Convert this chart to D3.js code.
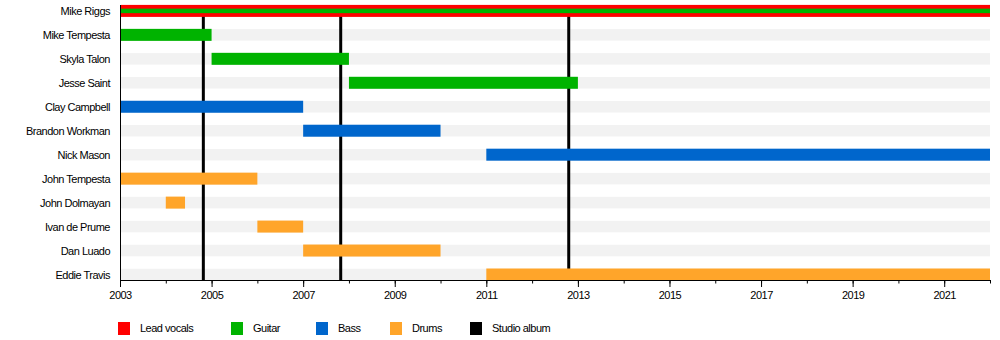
<!DOCTYPE html>
<html>
<head>
<meta charset="utf-8">
<script src="https://cdn.jsdelivr.net/npm/d3@7"></script>
<style>
  html, body { margin: 0; padding: 0; background: #fff; }
  svg { display: block; font-family: "Liberation Sans", Arial, sans-serif; }
  text { fill: #000; }
</style>
</head>
<body>
<svg id="chart" width="1000" height="340"></svg>
<script>
// Band members, top to bottom
const members = [
  "Mike Riggs", "Mike Tempesta", "Skyla Talon", "Jesse Saint",
  "Clay Campbell", "Brandon Workman", "Nick Mason",
  "John Tempesta", "John Dolmayan", "Ivan de Prume", "Dan Luado", "Eddie Travis"
];

// Roles and their colours
const roles = ["Lead vocals", "Guitar", "Bass", "Drums"];
const roleColors = ["#ff0000", "#00b300", "#0066cc", "#ffa52a"];

// Tenure periods: [member, role, start year, end year]
const periods = [
  ["Mike Riggs", "Lead vocals", 2003, 2022],
  ["Mike Riggs", "Guitar", 2003, 2022],
  ["Mike Tempesta", "Guitar", 2003, 2005],
  ["Skyla Talon", "Guitar", 2005, 2008],
  ["Jesse Saint", "Guitar", 2008, 2013],
  ["Clay Campbell", "Bass", 2003, 2007],
  ["Brandon Workman", "Bass", 2007, 2010],
  ["Nick Mason", "Bass", 2011, 2022],
  ["John Tempesta", "Drums", 2003, 2006],
  ["John Dolmayan", "Drums", 2004, 2004.42],
  ["Ivan de Prume", "Drums", 2006, 2007],
  ["Dan Luado", "Drums", 2007, 2010],
  ["Eddie Travis", "Drums", 2011, 2022]
];

// Studio album release dates
const albums = [2004.82, 2007.82, 2012.8];

// Timeline extent and axis ticks
const timeStart = 2003, timeEnd = 2022;
const minorYears = d3.range(2003, 2023);
const tickLabels = [2003, 2005, 2007, 2009, 2011, 2013, 2015, 2017, 2019, 2021];

const svg = d3.select("#chart");
const plotLeft = 120, plotRight = 990, plotTop = 5, plotBottom = 280;
const barH = 11.5;

const x = d3.scaleLinear().domain([timeStart, timeEnd]).range([plotLeft, plotRight]);
const y = d3.scalePoint().domain(members).range([10.9, 274.5]);
const color = d3.scaleOrdinal().domain(roles.concat(["Studio album"])).range(roleColors.concat(["#000000"]));

// Light background bars for each row
svg.append("g").selectAll("rect")
  .data(members.slice(1))
  .join("rect")
  .attr("x", x(timeStart) + 1)
  .attr("width", x(timeEnd) - x(timeStart) - 1)
  .attr("y", d => y(d) - barH / 2)
  .attr("height", barH)
  .attr("fill", "#f2f2f2");

// Studio album markers
svg.append("g").selectAll("line")
  .data(albums)
  .join("line")
  .attr("x1", d => x(d)).attr("x2", d => x(d))
  .attr("y1", plotTop).attr("y2", plotBottom)
  .attr("stroke", "#000")
  .attr("stroke-width", 3);

// Tenure bars; a second role in the same row is drawn as a thinner inner bar
const seen = {};
svg.append("g").selectAll("rect")
  .data(periods)
  .join("rect")
  .each(function(d) {
    const key = d[0] + "|" + d[2];
    const inner = seen[key] ? true : false;
    seen[key] = true;
    const h = inner ? 4.5 : barH + 0.5;
    d3.select(this)
      .attr("x", x(d[2]) + (d[2] === timeStart ? 1 : 0))
      .attr("width", x(d[3]) - x(d[2]) - (d[2] === timeStart ? 1 : 0))
      .attr("y", y(d[0]) - h / 2)
      .attr("height", h)
      .attr("fill", color(d[1]));
  });

// Member names
svg.append("g").selectAll("text")
  .data(members)
  .join("text")
  .attr("x", 110)
  .attr("y", d => y(d) + 0.5)
  .attr("dy", "0.35em")
  .attr("text-anchor", "end")
  .attr("font-size", 11)
  .attr("letter-spacing", -0.5)
  .text(d => d);

// Left edge of the plot
svg.append("line")
  .attr("x1", plotLeft + 0.5).attr("x2", plotLeft + 0.5)
  .attr("y1", plotTop).attr("y2", plotBottom)
  .attr("stroke", "#000");

// Yearly minor ticks
svg.append("g")
  .attr("transform", `translate(0,${plotBottom})`)
  .call(d3.axisBottom(x).tickValues(minorYears).tickSize(3.5).tickSizeOuter(0).tickFormat(""))
  .call(g => g.selectAll("line").attr("stroke", "#000"))
  .call(g => g.select(".domain").attr("stroke", "#000"));

// Labelled major ticks
svg.append("g")
  .attr("transform", `translate(0,${plotBottom})`)
  .call(d3.axisBottom(x).tickValues(tickLabels).tickSize(7).tickSizeOuter(0).tickFormat(d3.format("d")).tickPadding(4))
  .call(g => g.select(".domain").remove())
  .call(g => g.selectAll("line").attr("stroke", "#000"))
  .call(g => g.selectAll("text")
    .attr("font-family", "Liberation Sans, Arial, sans-serif")
    .attr("font-size", 11)
    .attr("letter-spacing", -0.5)
    .attr("fill", "#000"));

// Legend
const legendItems = roles.concat(["Studio album"]);
const legendX = [118, 231, 316, 390, 470];
const legend = svg.append("g").selectAll("g")
  .data(legendItems)
  .join("g")
  .attr("transform", (d, i) => `translate(${legendX[i]},322)`);
legend.append("rect")
  .attr("width", 12).attr("height", 13)
  .attr("fill", d => color(d));
legend.append("text")
  .attr("x", 22).attr("y", 6.5)
  .attr("dy", "0.35em")
  .attr("font-size", 11)
  .attr("letter-spacing", -0.5)
  .text(d => d);
</script>
</body>
</html>
